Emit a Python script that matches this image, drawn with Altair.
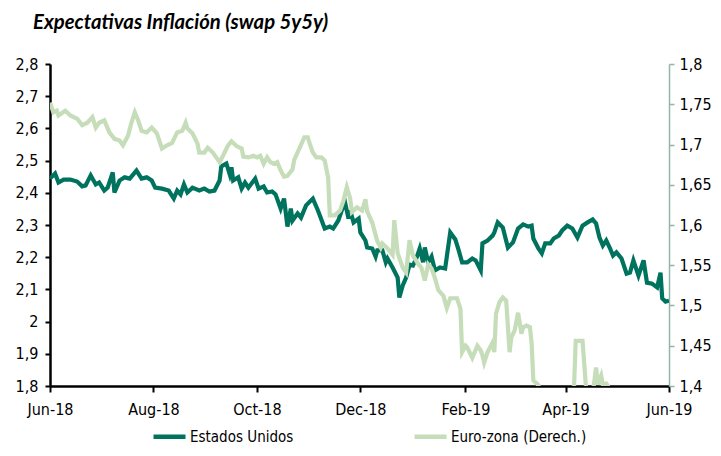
import altair as alt
import pandas as pd

# ---------------- data ----------------
us_dates = [
    "2018-06-01", "2018-06-04", "2018-06-06", "2018-06-09", "2018-06-13", "2018-06-17", "2018-06-20",
    "2018-06-22", "2018-06-25", "2018-06-28", "2018-06-30", "2018-07-03", "2018-07-05", "2018-07-08",
    "2018-07-09", "2018-07-12", "2018-07-15", "2018-07-18", "2018-07-22", "2018-07-25", "2018-07-28",
    "2018-07-31", "2018-08-02", "2018-08-06", "2018-08-10", "2018-08-13", "2018-08-15", "2018-08-17",
    "2018-08-19", "2018-08-21", "2018-08-24", "2018-08-28", "2018-08-31", "2018-09-03", "2018-09-06",
    "2018-09-09", "2018-09-10", "2018-09-13", "2018-09-15", "2018-09-16", "2018-09-17", "2018-09-20",
    "2018-09-22", "2018-09-24", "2018-09-26", "2018-09-30", "2018-10-02", "2018-10-05", "2018-10-07",
    "2018-10-10", "2018-10-12", "2018-10-15", "2018-10-17", "2018-10-19", "2018-10-21", "2018-10-22",
    "2018-10-25", "2018-10-27", "2018-10-30", "2018-11-03", "2018-11-06", "2018-11-10", "2018-11-13",
    "2018-11-15", "2018-11-18", "2018-11-20", "2018-11-22", "2018-11-24", "2018-11-25", "2018-11-27",
    "2018-11-30", "2018-12-01", "2018-12-04", "2018-12-05", "2018-12-08", "2018-12-10", "2018-12-11",
    "2018-12-14", "2018-12-16", "2018-12-17", "2018-12-20", "2018-12-23", "2018-12-24", "2018-12-26",
    "2018-12-28", "2018-12-30", "2019-01-01", "2019-01-03", "2019-01-05", "2019-01-07", "2019-01-08",
    "2019-01-10", "2019-01-12", "2019-01-14", "2019-01-17", "2019-01-20", "2019-01-23", "2019-01-26",
    "2019-01-28", "2019-01-30", "2019-02-02", "2019-02-05", "2019-02-07", "2019-02-10", "2019-02-11",
    "2019-02-14", "2019-02-17", "2019-02-18", "2019-02-20", "2019-02-23", "2019-02-26", "2019-03-01",
    "2019-03-04", "2019-03-07", "2019-03-10", "2019-03-12", "2019-03-13", "2019-03-16", "2019-03-18",
    "2019-03-20", "2019-03-23", "2019-03-25", "2019-03-28", "2019-03-30", "2019-04-02", "2019-04-05",
    "2019-04-08", "2019-04-11", "2019-04-14", "2019-04-17", "2019-04-19", "2019-04-21", "2019-04-23",
    "2019-04-25", "2019-04-27", "2019-04-29", "2019-05-01", "2019-05-04", "2019-05-07", "2019-05-09",
    "2019-05-11", "2019-05-14", "2019-05-17", "2019-05-19", "2019-05-22", "2019-05-25", "2019-05-27",
    "2019-05-28", "2019-05-30", "2019-06-01",
]
us_values = [
    2.444, 2.460, 2.432, 2.441, 2.441, 2.435, 2.420,
    2.423, 2.454, 2.426, 2.432, 2.407, 2.416, 2.463,
    2.401, 2.438, 2.448, 2.444, 2.469, 2.444, 2.448,
    2.438, 2.416, 2.413, 2.407, 2.382, 2.407, 2.395,
    2.426, 2.401, 2.416, 2.407, 2.413, 2.404, 2.407,
    2.438, 2.482, 2.491, 2.457, 2.479, 2.438, 2.448,
    2.413, 2.432, 2.416, 2.444, 2.413, 2.420, 2.401,
    2.404, 2.395, 2.351, 2.382, 2.295, 2.351, 2.314,
    2.336, 2.323, 2.361, 2.382, 2.345, 2.289, 2.295,
    2.289, 2.314, 2.345, 2.370, 2.320, 2.345, 2.308,
    2.320, 2.277, 2.252, 2.230, 2.227, 2.202, 2.221,
    2.221, 2.184, 2.196, 2.168, 2.137, 2.075, 2.112,
    2.137, 2.177, 2.174, 2.196, 2.227, 2.184, 2.230,
    2.184, 2.202, 2.159, 2.168, 2.165, 2.277, 2.255,
    2.221, 2.184, 2.184, 2.196, 2.190, 2.159, 2.243,
    2.252, 2.267, 2.277, 2.308, 2.292, 2.230, 2.246,
    2.289, 2.302, 2.295, 2.298, 2.258, 2.227, 2.212,
    2.243, 2.243, 2.258, 2.267, 2.283, 2.298, 2.289,
    2.261, 2.298, 2.308, 2.317, 2.305, 2.261, 2.236,
    2.252, 2.230, 2.205, 2.215, 2.196, 2.149, 2.152,
    2.190, 2.143, 2.190, 2.121, 2.118, 2.106, 2.152,
    2.072, 2.062, 2.065,
]

eu_dates = [
    "2018-06-01", "2018-06-03", "2018-06-05", "2018-06-06", "2018-06-10", "2018-06-13", "2018-06-17",
    "2018-06-20", "2018-06-23", "2018-06-26", "2018-06-28", "2018-06-30", "2018-07-03", "2018-07-06",
    "2018-07-09", "2018-07-12", "2018-07-14", "2018-07-17", "2018-07-19", "2018-07-21", "2018-07-23",
    "2018-07-25", "2018-07-28", "2018-07-31", "2018-08-03", "2018-08-06", "2018-08-09", "2018-08-12",
    "2018-08-15", "2018-08-18", "2018-08-20", "2018-08-21", "2018-08-24", "2018-08-27", "2018-08-28",
    "2018-08-31", "2018-09-02", "2018-09-05", "2018-09-07", "2018-09-09", "2018-09-11", "2018-09-14",
    "2018-09-16", "2018-09-19", "2018-09-22", "2018-09-23", "2018-09-26", "2018-09-29", "2018-10-01",
    "2018-10-03", "2018-10-05", "2018-10-07", "2018-10-09", "2018-10-11", "2018-10-13", "2018-10-15",
    "2018-10-17", "2018-10-19", "2018-10-22", "2018-10-23", "2018-10-26", "2018-10-29", "2018-10-31",
    "2018-11-01", "2018-11-03", "2018-11-05", "2018-11-08", "2018-11-10", "2018-11-12", "2018-11-13",
    "2018-11-16", "2018-11-19", "2018-11-21", "2018-11-23", "2018-11-25", "2018-11-26", "2018-11-29",
    "2018-12-02", "2018-12-04", "2018-12-05", "2018-12-08", "2018-12-11", "2018-12-13", "2018-12-14",
    "2018-12-17", "2018-12-20", "2018-12-21", "2018-12-23", "2018-12-26", "2018-12-28", "2018-12-30",
    "2019-01-01", "2019-01-04", "2019-01-06", "2019-01-08", "2019-01-10", "2019-01-12", "2019-01-14",
    "2019-01-16", "2019-01-19", "2019-01-21", "2019-01-23", "2019-01-27", "2019-01-29", "2019-01-30",
    "2019-02-01", "2019-02-02", "2019-02-05", "2019-02-08", "2019-02-10", "2019-02-11", "2019-02-12",
    "2019-02-14", "2019-02-17", "2019-02-18", "2019-02-19", "2019-02-21", "2019-02-23", "2019-02-25",
    "2019-02-27", "2019-02-28", "2019-03-02", "2019-03-04", "2019-03-06", "2019-03-07", "2019-03-09",
    "2019-03-11", "2019-03-12", "2019-03-13", "2019-03-16", "2019-03-18", "2019-03-25", "2019-04-01",
    "2019-04-06", "2019-04-07", "2019-04-11", "2019-04-13", "2019-04-15", "2019-04-17", "2019-04-19",
    "2019-04-20", "2019-04-22", "2019-04-23", "2019-04-25", "2019-04-26", "2019-04-28", "2019-05-15",
    "2019-06-01",
]
eu_values = [
    1.752, 1.740, 1.742, 1.736, 1.742, 1.736, 1.732,
    1.724, 1.727, 1.734, 1.721, 1.727, 1.730, 1.715,
    1.707, 1.705, 1.699, 1.711, 1.727, 1.740, 1.730,
    1.717, 1.715, 1.721, 1.714, 1.695, 1.699, 1.702,
    1.715, 1.717, 1.727, 1.720, 1.714, 1.701, 1.690,
    1.690, 1.696, 1.690, 1.684, 1.678, 1.686, 1.699,
    1.704, 1.698, 1.695, 1.685, 1.684, 1.686, 1.684,
    1.686, 1.676, 1.684, 1.678, 1.676, 1.678, 1.668,
    1.660, 1.661, 1.669, 1.681, 1.695, 1.709, 1.709,
    1.702, 1.690, 1.684, 1.684, 1.680, 1.659, 1.612,
    1.612, 1.618, 1.630, 1.647, 1.633, 1.616, 1.622,
    1.618, 1.632, 1.617, 1.603, 1.580, 1.572, 1.577,
    1.571, 1.563, 1.606, 1.565, 1.547, 1.541, 1.581,
    1.562, 1.552, 1.547, 1.531, 1.551, 1.546, 1.534,
    1.519, 1.512, 1.497, 1.509, 1.509, 1.496, 1.442,
    1.450, 1.448, 1.435, 1.450, 1.444, 1.438, 1.429,
    1.442, 1.454, 1.442, 1.490, 1.504, 1.510, 1.506,
    1.442, 1.460, 1.469, 1.491, 1.465, 1.473, 1.475,
    1.473, 1.453, 1.407, 1.401, 1.385, 1.380, 1.385,
    1.400, 1.456, 1.456, 1.400, 1.385, 1.390, 1.423,
    1.402, 1.413, 1.401, 1.403, 1.400, 1.385, 1.380,
    1.380,
]

series_names = ["Estados Unidos", "Euro-zona (Derech.)"]
series_colors = ["#00735f", "#c6ddb9"]

left_ticks = [1.8, 1.9, 2.0, 2.1, 2.2, 2.3, 2.4, 2.5, 2.6, 2.7, 2.8]
right_ticks = [1.4, 1.45, 1.5, 1.55, 1.6, 1.65, 1.7, 1.75, 1.8]

title_text = "Expectativas Inflación (swap 5y5y)"

# ---------------- tables ----------------
us = pd.DataFrame({"fecha": us_dates, "valor": us_values, "serie": series_names[0]})
eu = pd.DataFrame({"fecha": eu_dates, "valor": eu_values, "serie": series_names[1]})

FONT = "Liberation Sans Narrow, DejaVu Sans Condensed, Roboto Condensed, Roboto, sans-serif"
label_expr = "replace(format(datum.value, '~g'), '.', ',')"

tick_dates = [
    alt.DateTime(year=2018, month=6, date=1, utc=True),
    alt.DateTime(year=2018, month=8, date=1, utc=True),
    alt.DateTime(year=2018, month=10, date=1, utc=True),
    alt.DateTime(year=2018, month=12, date=1, utc=True),
    alt.DateTime(year=2019, month=2, date=1, utc=True),
    alt.DateTime(year=2019, month=4, date=1, utc=True),
    alt.DateTime(year=2019, month=6, date=1, utc=True),
]

x_enc = alt.X(
    "fecha:T",
    scale=alt.Scale(type="utc", domain=[tick_dates[0], tick_dates[-1]]),
    axis=alt.Axis(
        title=None, values=tick_dates, format="%b-%y", grid=False,
        domainColor="black", domainWidth=2.5, tickColor="black", tickWidth=2,
        tickSize=6, labelFont=FONT, labelFontSize=16, labelColor="black",
        labelPadding=9, labelFlush=False,
    ),
)

color_enc = alt.Color(
    "serie:N",
    scale=alt.Scale(domain=series_names, range=series_colors),
    legend=alt.Legend(
        title=None, orient="none", legendX=101, legendY=354, direction="horizontal",
        symbolType="stroke", symbolStrokeWidth=4.5, symbolSize=1024,
        labelFont=FONT, labelFontSize=15, labelColor="black",
        columnPadding=111, labelOffset=2,
    ),
)

us_line = alt.Chart(us).mark_line(strokeWidth=4.2, clip=True).encode(
    x=x_enc,
    y=alt.Y(
        "valor:Q",
        scale=alt.Scale(domain=[1.8, 2.8], nice=False, zero=False),
        axis=alt.Axis(
            title=None, orient="left", values=left_ticks, labelExpr=label_expr,
            grid=False, domainColor="black", domainWidth=2.5, tickColor="black",
            tickWidth=2, tickSize=5, labelFont=FONT, labelFontSize=16,
            labelColor="black", labelPadding=7,
        ),
    ),
    color=color_enc,
)

eu_line = alt.Chart(eu).mark_line(strokeWidth=4.2, clip=True).encode(
    x=x_enc,
    y=alt.Y(
        "valor:Q",
        scale=alt.Scale(domain=[1.4, 1.8], nice=False, zero=False),
        axis=alt.Axis(
            title=None, orient="right", values=right_ticks, labelExpr=label_expr,
            grid=False, domainColor="#8fb6a9", domainWidth=1.5, tickColor="#8fb6a9",
            tickWidth=1.5, tickSize=5, labelFont=FONT, labelFontSize=16,
            labelColor="black", labelPadding=5,
        ),
    ),
    color=color_enc,
)

chart = (
    alt.layer(us_line, eu_line)
    .resolve_scale(y="independent")
    .properties(
        width=619,
        height=322,
        autosize=alt.AutoSizeParams(type="none"),
        padding={"left": 42, "top": 56, "right": 44, "bottom": 62},
        title=alt.TitleParams(
            title_text, anchor="start", frame="group", font="Lato", fontSize=20.3,
            fontStyle="italic", fontWeight="bold", color="black", dx=-17, offset=23,
        ),
    )
    .configure_view(stroke=None)
)

chart.save("out.html", embed_options={"renderer": "svg", "actions": False})
